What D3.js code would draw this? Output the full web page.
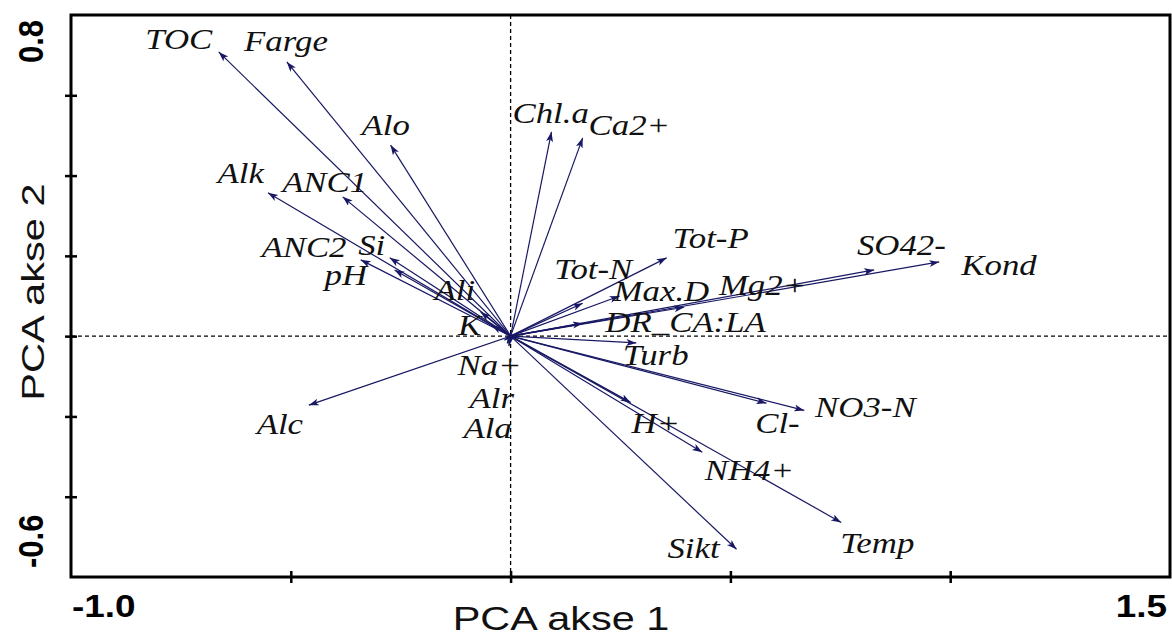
<!DOCTYPE html>
<html><head><meta charset="utf-8">
<script src="https://cdn.jsdelivr.net/npm/d3@7"></script>
<style>body{margin:0;background:#fff}svg{display:block}</style>
</head><body>
<svg id="chart" width="1172" height="637"></svg>
<script>
// ---- data ----
const variables = ["TOC","Farge","Alo","Chl.a","Ca2+","Alk","ANC1","ANC2","Si","pH","Ali","K","Na+","Alr","Ala","Alc",
  "Tot-P","Tot-N","Max.D","Mg2+","DR_CA:LA","SO42-","Kond","Turb","NO3-N","Cl-","H+","NH4+","Temp","Sikt"];
const axis1 = [-0.664,-0.509,-0.273,0.093,0.164,-0.552,-0.382,-0.341,-0.275,-0.264,-0.068,-0.043,-0.014,-0.008,-0.004,-0.459,
  0.355,0.164,0.248,0.395,0.164,0.827,0.975,0.286,0.668,0.582,0.273,0.436,0.752,0.514];
const axis2 = [0.708,0.683,0.476,0.509,0.494,0.357,0.347,0.190,0.195,0.165,0.060,0.027,-0.010,-0.018,-0.025,-0.172,
  0.195,0.082,0.100,0.072,0.032,0.165,0.185,-0.017,-0.185,-0.167,-0.165,-0.289,-0.464,-0.531];
// label anchor points (data units)
const labelX = [-0.755,-0.511,-0.284,0.091,0.270,-0.614,-0.423,-0.470,-0.316,-0.375,-0.127,-0.093,-0.048,-0.043,-0.052,-0.525,
  0.455,0.188,0.343,0.573,0.398,0.889,1.111,0.330,0.807,0.607,0.330,0.543,0.834,0.416];
const labelY = [0.738,0.733,0.526,0.556,0.524,0.406,0.384,0.222,0.227,0.152,0.115,0.027,-0.072,-0.155,-0.229,-0.219,
  0.244,0.166,0.112,0.127,0.035,0.227,0.177,-0.047,-0.177,-0.217,-0.217,-0.334,-0.516,-0.529];
const xTickValues = [-0.5, 0, 0.5, 1.0];
const yTickValues = [0.6, 0.4, 0.2, 0, -0.2, -0.4];
const xEndLabels = ["-1.0", "1.5"];
const yEndLabels = ["-0.6", "0.8"];
const xTitle = "PCA akse 1";
const yTitle = "PCA akse 2";

// ---- layout ----
const svg = d3.select("#chart");
const pL = 71, pR = 1170, pT = 15, pB = 577;
const x = d3.scaleLinear().domain([-1.0, 1.5]).range([pL, pR]);
const y = d3.scaleLinear().domain([-0.6, 0.8]).range([pB, pT]);
const ink = "#181864";

svg.append("defs").append("marker")
  .attr("id","ah").attr("markerUnits","userSpaceOnUse")
  .attr("markerWidth",12).attr("markerHeight",10)
  .attr("refX",10).attr("refY",3.5).attr("orient","auto")
  .append("path").attr("d","M0,0 L10,3.5 L0,7 L2.5,3.5 Z").attr("fill",ink);

// dashed zero lines
svg.append("line").attr("x1",x(0)).attr("x2",x(0)).attr("y1",pT).attr("y2",pB)
  .attr("stroke","#000").attr("stroke-width",1.3).attr("stroke-dasharray","4,3");
svg.append("line").attr("x1",pL).attr("x2",pR).attr("y1",y(0)).attr("y2",y(0))
  .attr("stroke","#000").attr("stroke-width",1.3).attr("stroke-dasharray","4,3");

// arrows
const data = variables.map((v,i)=>({name:v, a:axis1[i], b:axis2[i], lx:labelX[i], ly:labelY[i]}));
svg.append("g").selectAll("line").data(data).join("line")
  .attr("x1",x(0)).attr("y1",y(0))
  .attr("x2",d=>x(d.a)).attr("y2",d=>y(d.b))
  .attr("stroke",ink).attr("stroke-width",1.2)
  .attr("marker-end","url(#ah)");

// arrow labels
svg.append("g").selectAll("text").data(data).join("text")
  .attr("transform",d=>`translate(${x(d.lx)},${y(d.ly)}) scale(1.2,1)`)
  .attr("text-anchor","middle").attr("dy","0.33em")
  .attr("font-family","'Liberation Serif','Times New Roman',serif")
  .attr("font-style","italic").attr("font-size",29).attr("fill","#111")
  .text(d=>d.name);

// frame
svg.append("rect").attr("x",pL).attr("y",pT).attr("width",pR-pL).attr("height",pB-pT)
  .attr("fill","none").attr("stroke","#000").attr("stroke-width",3);

// axes ticks
const gx = svg.append("g").attr("transform",`translate(0,${pB})`)
  .call(d3.axisBottom(x).tickValues(xTickValues).tickSize(6).tickFormat(""));
gx.select(".domain").remove();
gx.selectAll(".tick line").attr("y1",-6).attr("y2",6).attr("stroke","#000").attr("stroke-width",2.5);
const gy = svg.append("g").attr("transform",`translate(${pL},0)`)
  .call(d3.axisLeft(y).tickValues(yTickValues).tickSize(6).tickFormat(""));
gy.select(".domain").remove();
gy.selectAll(".tick line").attr("x1",-6).attr("x2",6).attr("stroke","#000").attr("stroke-width",2.5);

// end labels
const sans = "'Liberation Sans',Arial,sans-serif";
svg.append("text").attr("transform",`translate(${x(-1.0)+1},617) scale(1.19,1)`)
  .attr("font-family",sans).attr("font-weight","bold").attr("font-size",31).attr("text-anchor","start").text(xEndLabels[0]);
svg.append("text").attr("transform",`translate(${x(1.5)-3},617) scale(1.19,1)`)
  .attr("font-family",sans).attr("font-weight","bold").attr("font-size",31).attr("text-anchor","end").text(xEndLabels[1]);
svg.append("text").attr("transform",`translate(43,${y(-0.6)-9}) scale(1.15,1) rotate(-90)`)
  .attr("font-family",sans).attr("font-weight","bold").attr("font-size",31).attr("text-anchor","start").text(yEndLabels[0]);
svg.append("text").attr("transform",`translate(43,${y(0.8)+5}) scale(1.15,1) rotate(-90)`)
  .attr("font-family",sans).attr("font-weight","bold").attr("font-size",31).attr("text-anchor","end").text(yEndLabels[1]);

// titles
svg.append("text").attr("transform",`translate(561,630) scale(1.22,1)`)
  .attr("font-family",sans).attr("font-size",34).attr("text-anchor","middle").attr("fill","#111").text(xTitle);
svg.append("text").attr("transform",`translate(44,292) rotate(-90) scale(1.3,1)`)
  .attr("font-family",sans).attr("font-size",32).attr("text-anchor","middle").attr("fill","#111").text(yTitle);
</script>
</body></html>
